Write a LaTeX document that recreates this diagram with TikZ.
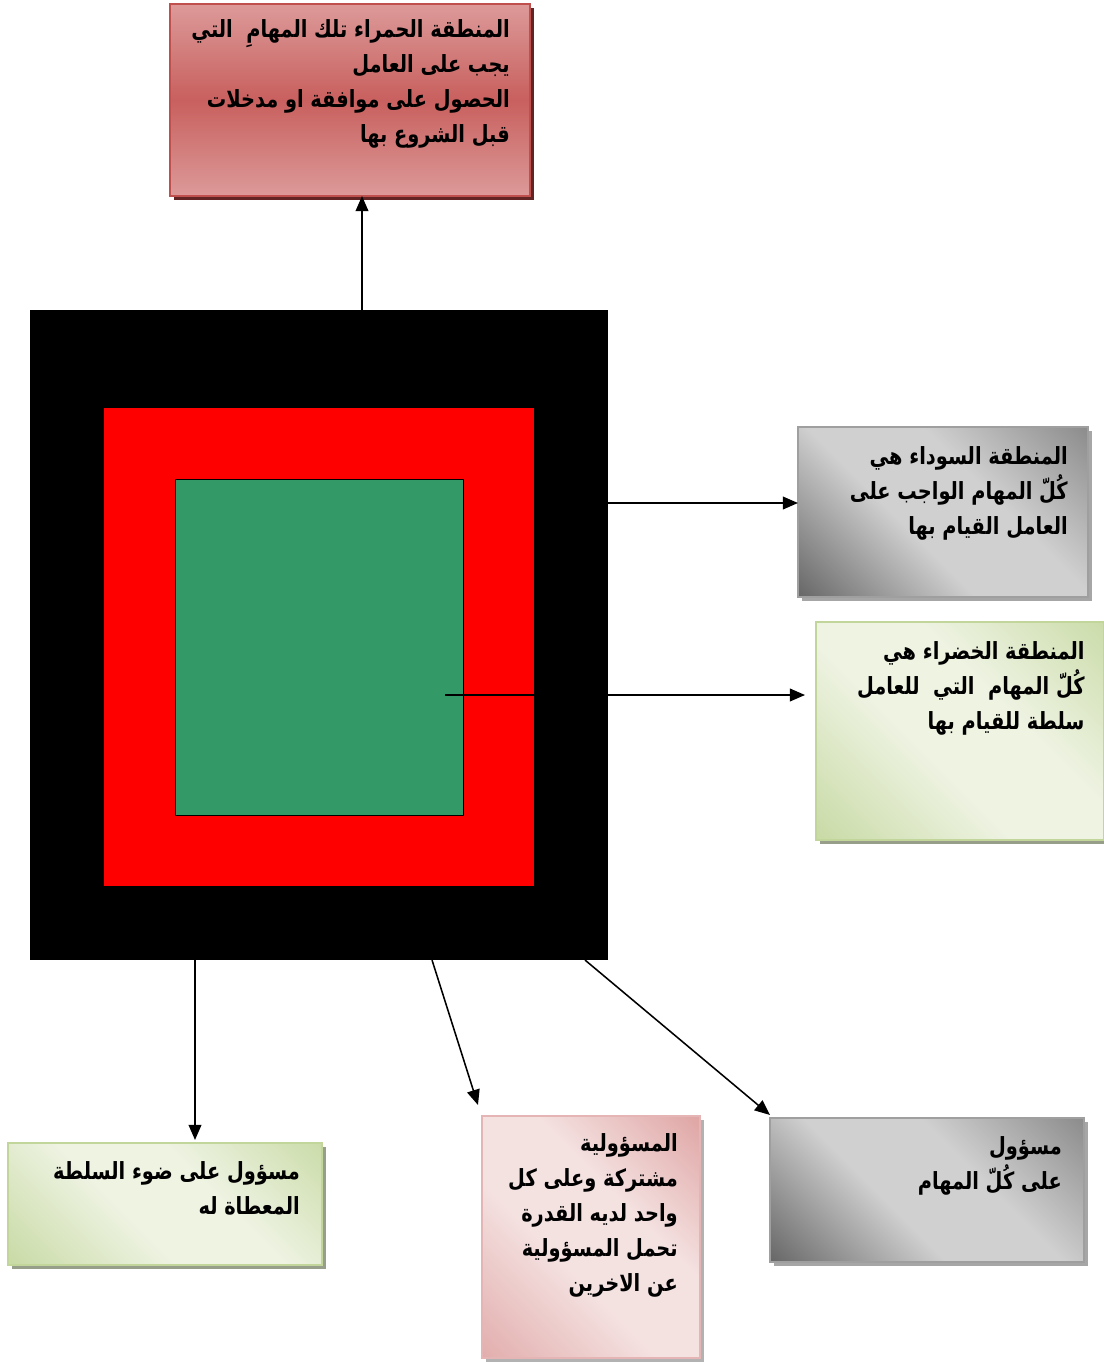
\documentclass[tikz,border=0pt]{standalone}
\usepackage{fontspec}
\newfontfamily\arabicfont[Script=Arabic, FakeStretch=0.82]{DejaVu Sans}
\TeXXeTstate=1
\usetikzlibrary{arrows.meta, positioning, shadows}
\definecolor{zgreen}{HTML}{339966}
\definecolor{rosedark}{HTML}{C0504D}
\definecolor{rosemid}{HTML}{C8605E}
\definecolor{roselite}{HTML}{DC9A99}
\definecolor{roseshd}{HTML}{632523}
\definecolor{olivelite}{HTML}{EEF3E2}
\definecolor{olivedark}{HTML}{C2D69B}
\definecolor{pinklite}{HTML}{F4E2E1}
\definecolor{pinkdark}{HTML}{D99594}
\definecolor{greydark}{HTML}{555555}
\definecolor{greymid}{HTML}{7A7A7A}
\definecolor{greylite}{HTML}{D0D0D0}
\newcommand{\artxt}[1]{\beginR #1\endR}
% smooth diagonal shadings: lower-left corner, light centre, upper-right corner
\pgfdeclareverticalshading{diaggrey}{100bp}{color(0bp)=(greydark); color(10bp)=(greydark);
  color(42bp)=(greylite); color(60bp)=(greylite); color(92bp)=(greymid); color(100bp)=(greymid)}
\pgfdeclareverticalshading{diagolive}{100bp}{color(0bp)=(olivedark); color(10bp)=(olivedark);
  color(42bp)=(olivelite); color(60bp)=(olivelite); color(92bp)=(olivedark); color(100bp)=(olivedark)}
\pgfdeclareverticalshading{diagpink}{100bp}{color(0bp)=(pinkdark!85!white); color(10bp)=(pinkdark!85!white);
  color(42bp)=(pinklite); color(60bp)=(pinklite); color(92bp)=(pinkdark); color(100bp)=(pinkdark)}
\tikzset{
  zone/.style={rectangle, inner sep=0pt, outer sep=0pt},
  card/.style={rectangle, inner sep=0pt, outer sep=0pt, line width=0.8pt,
               drop shadow={shadow xshift=0.1cm, shadow yshift=-0.1cm,
               fill=#1, opacity=1}},
  redcard/.style={card=roseshd, draw=rosedark, top color=roselite,
                  bottom color=roselite, middle color=rosemid},
  greycard/.style={card=gray!70, draw=gray!75, shading=diaggrey, shading angle=-45},
  olivecard/.style={card=gray!65!olivedark, draw=olivedark, shading=diagolive,
                    shading angle=-45},
  pinkcard/.style={card=gray!60, draw=pinkdark!70!white, shading=diagpink,
                   shading angle=-45},
  txt/.style={inner sep=0pt, align=right,
              font=\arabicfont\bfseries\fontsize{16.8}{25}\selectfont},
  arr/.style={-{Triangle[length=3.8mm, width=3.2mm]}, line width=1.1pt}
}
\begin{document}
\begin{tikzpicture}[x=0.025cm, y=-0.025cm]
\useasboundingbox (0,0) rectangle (1104,1362);
% nested zones
\node[zone, fill=black, minimum width=14.45cm, minimum height=16.25cm] (blk) at (319,635) {};
\node[zone, fill=red, minimum width=10.75cm, minimum height=11.95cm] (rzone) at (319,647) {};
\node[zone, fill=zgreen, draw=black, line width=0.6pt,
      minimum width=7.2cm, minimum height=8.4cm] (gzone) at (319,647) {};
% cards
\node[redcard, minimum width=9cm, minimum height=4.8cm] (rtop) at (350,100) {};
\node[greycard, minimum width=7.25cm, minimum height=4.25cm] (sbox) at (943,512) {};
\node[olivecard, minimum width=7.2cm, minimum height=5.45cm] (gbox) at (960,731) {};
\node[olivecard, minimum width=7.85cm, minimum height=3.05cm] (lbox) at (165,1204) {};
\node[pinkcard, minimum width=5.45cm, minimum height=6.05cm] (pbox) at (591,1237) {};
\node[greycard, minimum width=7.85cm, minimum height=3.6cm] (gbot) at (927,1190) {};
% texts
\node[txt, below left=0.38cm and 0.5cm of rtop.north east] (trtop)
  {\artxt{المنطقة الحمراء تلك المهامِ~ التي}\\ \artxt{يجب على العامل}\\
   \artxt{الحصول على موافقة او مدخلات}\\ \artxt{قبل الشروع بها}};
\node[txt, below left=0.47cm and 0.5cm of sbox.north east] (tsbox)
  {\artxt{المنطقة السوداء هي}\\ \artxt{كُلّ المهام الواجب على}\\ \artxt{العامل القيام بها}};
\node[txt, below left=0.48cm and 0.48cm of gbox.north east] (tgbox)
  {\artxt{المنطقة الخضراء هي}\\ \artxt{كُلّ المهام~ التي~ للعامل}\\ \artxt{سلطة للقيام بها}};
\node[txt, below left=0.45cm and 0.55cm of lbox.north east] (tlbox)
  {\artxt{مسؤول على ضوء السلطة}\\ \artxt{المعطاة له}};
\node[txt, below left=0.42cm and 0.55cm of pbox.north east] (tpbox)
  {\artxt{المسؤولية}\\ \artxt{مشتركة وعلى كل}\\ \artxt{واحد لديه القدرة}\\
   \artxt{تحمل المسؤولية}\\ \artxt{عن الاخرين}};
\node[txt, below left=0.45cm and 0.55cm of gbot.north east] (tgbot)
  {\artxt{مسؤول}\\ \artxt{على كُلّ المهام}};
% arrows
\coordinate (sa) at ([yshift=0.225cm]sbox.west);
\coordinate (g0) at (445,695);
\coordinate (g1) at (805,695);
\draw[arr] ([xshift=1.075cm]blk.north) -- ([xshift=0.3cm]rtop.south);
\draw[arr] (blk.east |- sa) -- (sa);
\draw[arr] (g0) -- (g1);
\draw[arr] (blk.south -| lbox.north) ++(0.75cm,0) -- ([shift={(0.75cm,0.075cm)}]lbox.north);
\draw[arr] ([xshift=2.825cm]blk.south) -- ([shift={(-0.1cm,0.275cm)}]pbox.north west);
\draw[arr] ([xshift=6.65cm]blk.south) -- ([yshift=0.075cm]gbot.north west);
\end{tikzpicture}
\end{document}
